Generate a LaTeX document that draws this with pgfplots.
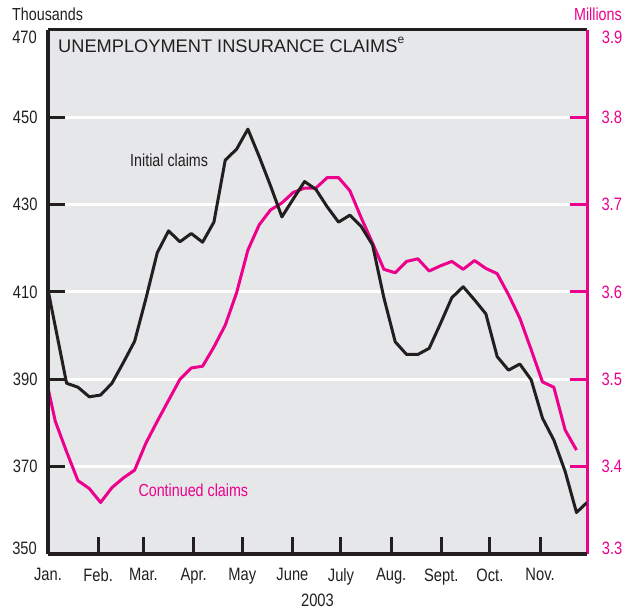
\documentclass[border=0pt]{standalone}
\usepackage{fontspec}
\setmainfont{Liberation Sans}
\newfontfamily\narrow[FakeStretch=0.82]{Liberation Sans}
\usepackage{pgfplots}
\pgfplotsset{compat=1.18}
\definecolor{pk}{RGB}{236,0,140}
\definecolor{ink}{RGB}{35,31,32}
\definecolor{bg}{RGB}{230,231,233}
\newcommand{\tfont}{\narrow\fontsize{18}{18}\selectfont}
\begin{document}
\begin{tikzpicture}
% right axis (continued claims, millions) with background
\begin{axis}[
  width=539bp, height=524bp, scale only axis,
  xmin=0, xmax=333, ymin=3.3, ymax=3.9,
  axis x line*=top, axis y line*=right,
  x axis line style={ink, line width=3bp, -},
  y axis line style={pk, line width=3bp, -},
  xtick=\empty,
  ytick={3.4,3.5,3.6,3.7,3.8},
  yticklabels={3.4,3.5,3.6,3.7,3.8},
  ymajorgrids, major grid style={white, line width=3bp},
  tick align=inside, major tick length=17bp,
  ytick style={pk, line width=3bp},
  yticklabel style={pk, font=\tfont, xshift=11bp},
  /pgf/number format/assume math mode=true,
  axis background/.style={fill=bg},
]
\addplot[pk, line width=3bp, line join=round] coordinates {
(0,3.490) (4.5,3.452) (11.5,3.417) (18.5,3.384) (25.5,3.375) (32.5,3.359)
(39.5,3.376) (46.5,3.387) (53.5,3.396) (60.5,3.427) (67.5,3.452) (74.5,3.476)
(81.5,3.500) (88.5,3.513) (95.5,3.515) (102.5,3.537) (109.5,3.562) (116.5,3.599)
(123.5,3.648) (130.5,3.677) (137.5,3.694) (144.5,3.702) (151.5,3.714) (158.5,3.719)
(165.5,3.719) (172.5,3.731) (179.5,3.731) (186.5,3.716) (193.5,3.685) (200.5,3.656)
(207.5,3.626) (214.5,3.622) (221.5,3.635) (228.5,3.638) (235.5,3.624) (242.5,3.630)
(249.5,3.635) (256.5,3.626) (263.5,3.636) (270.5,3.627) (277.5,3.621) (284.5,3.597)
(291.5,3.570) (298.5,3.534) (305.5,3.497) (312.5,3.491) (319.5,3.442) (326.5,3.419)
};
\end{axis}
% left axis (initial claims, thousands)
\begin{axis}[
  width=539bp, height=524bp, scale only axis,
  xmin=0, xmax=333, ymin=350, ymax=470,
  axis x line*=bottom, axis y line*=left,
  axis line style={ink, line width=3bp, -},
  xtick={31,59,90,120,151,181,212,243,273,304},
  xticklabels={Feb.,Mar.,Apr.,May,June,July,Aug.,Sept.,Oct.,Nov.},
  extra x ticks={0}, extra x tick labels={Jan.},
  extra x tick style={major tick length=0pt},
  ytick={370,390,410,430,450},
  tick align=inside, major tick length=17bp,
  tick style={ink, line width=3bp},
  ticklabel style={ink, font=\tfont},
  xticklabel style={yshift=-11bp},
  yticklabel style={xshift=-7bp},
  /pgf/number format/assume math mode=true,
]
\addplot[ink, line width=3bp, line join=round] coordinates {
(0,410.5) (4.5,402.1) (11.5,389.1) (18.5,388.2) (25.5,386.0) (32.5,386.4)
(39.5,389.1) (46.5,393.8) (53.5,398.7) (60.5,408.5) (67.5,419.0) (74.5,424.0)
(81.5,421.5) (88.5,423.4) (95.5,421.4) (102.5,426.0) (109.5,440.2) (116.5,442.7)
(123.5,447.3) (130.5,441.0) (137.5,434.3) (144.5,427.2) (151.5,431.3) (158.5,435.3)
(165.5,433.5) (172.5,429.5) (179.5,426.0) (186.5,427.6) (193.5,425.0) (200.5,420.8)
(207.5,408.7) (214.5,398.6) (221.5,395.7) (228.5,395.7) (235.5,397.1) (242.5,402.8)
(249.5,408.7) (256.5,411.2) (263.5,408.2) (270.5,405.0) (277.5,395.2) (284.5,392.1)
(291.5,393.5) (298.5,389.9) (305.5,381.1) (312.5,376.1) (319.5,368.9) (326.5,359.5)
(333.0,361.8)
};
\end{axis}
% end labels of the value scales
\node[anchor=east, text=ink, font=\tfont, inner sep=0pt] at (-11bp,516.5bp) {470};
\node[anchor=east, text=ink, font=\tfont, inner sep=0pt] at (-11bp,5.5bp) {350};
\node[anchor=west, text=pk, font=\tfont, inner sep=0pt] at (553.7bp,516.5bp) {3.9};
\node[anchor=west, text=pk, font=\tfont, inner sep=0pt] at (553.7bp,6bp) {3.3};
\node[anchor=base west, text=ink, font=\fontsize{18.3}{18.3}\selectfont, inner sep=0pt]
  at (10bp,501.7bp) {UNEMPLOYMENT INSURANCE CLAIMS\raisebox{0.5em}{\fontsize{12}{12}\selectfont e}};
\node[anchor=base west, text=ink, font=\narrow\fontsize{17.5}{17.5}\selectfont, inner sep=0pt]
  at (82bp,387.3bp) {Initial claims};
\node[anchor=base west, text=pk, font=\narrow\fontsize{17.5}{17.5}\selectfont, inner sep=0pt]
  at (90.3bp,57.3bp) {Continued claims};
\node[anchor=base west, text=ink, font=\narrow\fontsize{17.5}{17.5}\selectfont, inner sep=0pt] at (-36bp,533bp) {Thousands};
\node[anchor=base east, text=pk, font=\narrow\fontsize{17.5}{17.5}\selectfont, inner sep=0pt] at (574bp,533bp) {Millions};
\node[anchor=center, text=ink, font=\tfont, inner sep=0pt] at (269.5bp,-46bp) {2003};
\pgfresetboundingbox
\path (-48bp,-59bp) rectangle (590bp,554bp);
\end{tikzpicture}
\end{document}
